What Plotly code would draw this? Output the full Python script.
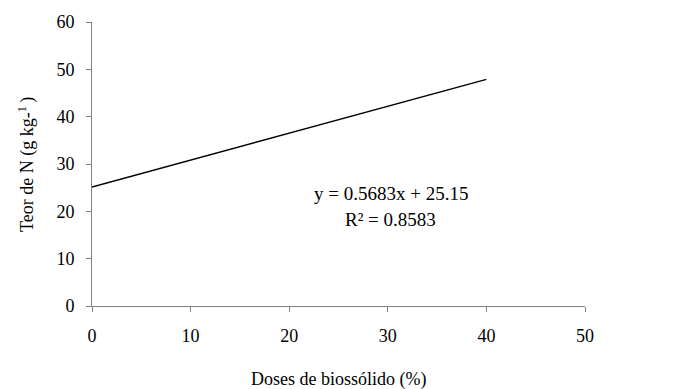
import plotly.graph_objects as go

# Data
dose = [0, 40]
teor_n = [25.15, 47.88]
x_ticks = [0, 10, 20, 30, 40, 50]
y_ticks = [0, 10, 20, 30, 40, 50, 60]
equation = "y = 0.5683x + 25.15"
r2_text = "R² = 0.8583"
x_title = "Doses de biossólido (%)"
y_title = "Teor de N (g kg-<sup>1 </sup>)"

FONT = "Liberation Serif, Times New Roman, serif"
fig = go.Figure()
fig.add_trace(go.Scatter(x=dose, y=teor_n, mode="lines",
                         line=dict(color="black", width=1.5),
                         showlegend=False, hoverinfo="skip"))

fig.update_layout(
    width=676, height=389,
    margin=dict(l=92, r=91, t=22, b=83),
    paper_bgcolor="white", plot_bgcolor="white",
    font=dict(family=FONT, size=18, color="black"),
    xaxis=dict(range=[0, 50], tickvals=x_ticks, showgrid=False, zeroline=False,
               showline=True, linecolor="#808080", linewidth=1,
               ticks="outside", ticklen=5, tickcolor="#808080",
               ticklabelstandoff=8, tickfont=dict(size=18)),
    yaxis=dict(range=[0, 60], tickvals=y_ticks, showgrid=False, zeroline=False,
               showline=True, linecolor="#808080", linewidth=1,
               ticks="outside", ticklen=5, tickcolor="#808080",
               ticklabelstandoff=8, tickfont=dict(size=18)),
    annotations=[
        dict(x=30.3, y=23.7, xref="x", yref="y", text=equation, showarrow=False,
             font=dict(size=19)),
        dict(x=30.3, y=18.2, xref="x", yref="y", text=r2_text, showarrow=False,
             font=dict(size=19)),
        dict(x=0.5, y=-0.258, xref="paper", yref="paper", text=x_title, showarrow=False,
             yanchor="middle", font=dict(size=18)),
        dict(x=-0.132, y=0.5, xref="paper", yref="paper", text=y_title, showarrow=False,
             textangle=-90, xanchor="center", font=dict(size=18)),
    ],
)
fig.write_html("out.html", config={"displayModeBar": False},
               post_script="document.body.style.margin='0px';")
